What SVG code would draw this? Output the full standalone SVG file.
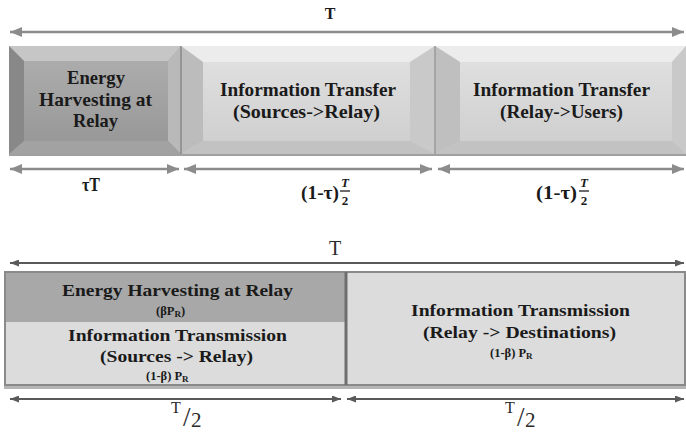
<svg xmlns="http://www.w3.org/2000/svg" width="686" height="436" viewBox="0 0 686 436" font-family="'Liberation Serif', 'DejaVu Serif', serif">
  <defs>
    <marker id="headLight" viewBox="0 0 12 10" refX="12" refY="5" markerWidth="12" markerHeight="10" markerUnits="userSpaceOnUse" orient="auto-start-reverse">
      <path d="M0,0 L12,5 L0,10 Z" fill="#8c8c8c"/>
    </marker>
    <marker id="headDark" viewBox="0 0 9 7" refX="9" refY="3.5" markerWidth="9" markerHeight="7" markerUnits="userSpaceOnUse" orient="auto-start-reverse">
      <path d="M0,0 L9,3.5 L0,7 Z" fill="#5a5a5a"/>
    </marker>
    <linearGradient id="faceDark" x1="0" y1="0" x2="0" y2="1">
      <stop offset="0" stop-color="#b0b0b0"/>
      <stop offset="1" stop-color="#959595"/>
    </linearGradient>
    <linearGradient id="faceLight" x1="0" y1="0" x2="0" y2="1">
      <stop offset="0" stop-color="#e2e2e2"/>
      <stop offset="1" stop-color="#cdcdcd"/>
    </linearGradient>
  </defs>
  <style>
    text { font-family: "Liberation Serif", "DejaVu Serif", serif; }
    .lbl { font-weight: bold; fill: #1a1a1a; }
    .big { font-size: 19px; }
    .mid { font-size: 17px; }
    .sm { font-size: 12.5px; }
    .reg { font-weight: normal; fill: #2a2a2a; }
    .arrL { stroke: #8c8c8c; stroke-width: 2.5; fill: none; marker-start: url(#headLight); marker-end: url(#headLight); }
    .arrD { stroke: #5a5a5a; stroke-width: 2; fill: none; marker-start: url(#headDark); marker-end: url(#headDark); }
  </style>

  <rect width="686" height="436" fill="#ffffff"/>

  <!-- upper time line: bevelled slots -->
  <rect x="9" y="153" width="677" height="3" fill="#a0a0a0"/>

  <g id="slot-energy-harvesting">
    <rect x="9" y="46" width="172" height="108" fill="url(#faceDark)"/>
    <polygon points="9,46 181,46 168,61 24,61" fill="#c6c6c6"/>
    <polygon points="9,46 24,61 24,141 9,154" fill="#888888"/>
    <polygon points="181,46 181,154 168,141 168,61" fill="#b9b9b9"/>
    <polygon points="9,154 24,141 168,141 181,154" fill="#a2a2a2"/>
    <text class="lbl big" x="67" y="84" textLength="58" lengthAdjust="spacingAndGlyphs">Energy</text>
    <text class="lbl big" x="39" y="106" textLength="113" lengthAdjust="spacingAndGlyphs">Harvesting at</text>
    <text class="lbl big" x="73" y="127" textLength="45" lengthAdjust="spacingAndGlyphs">Relay</text>
  </g>

  <g id="slot-sources-relay">
    <rect x="181" y="46" width="254" height="108" fill="url(#faceLight)"/>
    <polygon points="181,46 435,46 410,62 203,62" fill="#ececec"/>
    <polygon points="181,46 203,62 203,141 181,154" fill="#bcbcbc"/>
    <polygon points="435,46 435,154 410,141 410,62" fill="#c9c9c9"/>
    <polygon points="181,154 203,141 410,141 435,154" fill="#c2c2c2"/>
    <line x1="181" y1="46" x2="181" y2="154" stroke="#8a8a8a" stroke-width="1.5"/>
    <text class="lbl big" x="220" y="96" textLength="176" lengthAdjust="spacingAndGlyphs">Information Transfer</text>
    <text class="lbl big" x="233" y="118" textLength="147" lengthAdjust="spacingAndGlyphs">(Sources-&gt;Relay)</text>
  </g>

  <g id="slot-relay-users">
    <rect x="435" y="46" width="251" height="108" fill="url(#faceLight)"/>
    <polygon points="435,46 686,46 672,62 460,62" fill="#ececec"/>
    <polygon points="435,46 460,62 460,141 435,154" fill="#bfbfbf"/>
    <polygon points="686,46 686,154 672,141 672,62" fill="#c9c9c9"/>
    <polygon points="435,154 460,141 672,141 686,154" fill="#c2c2c2"/>
    <line x1="435" y1="46" x2="435" y2="154" stroke="#9a9a9a" stroke-width="1.5"/>
    <text class="lbl big" x="473" y="96" textLength="177" lengthAdjust="spacingAndGlyphs">Information Transfer</text>
    <text class="lbl big" x="500" y="118" textLength="123" lengthAdjust="spacingAndGlyphs">(Relay-&gt;Users)</text>
  </g>

  <!-- lower time line: split slot -->
  <g id="slot-harvest-and-receive">
    <rect x="4" y="386" width="682" height="3" fill="#b5b5b5"/>
    <rect x="5" y="272" width="341" height="50" fill="#a8a8a8"/>
    <rect x="5" y="322" width="341" height="63" fill="#dcdcdc"/>
    <rect x="5" y="272" width="341" height="113" fill="none" stroke="#8a8a8a" stroke-width="2"/>
    <text class="lbl mid" x="62" y="296" textLength="231" lengthAdjust="spacingAndGlyphs">Energy Harvesting at Relay</text>
    <text class="lbl sm" x="156" y="315">(βP<tspan font-size="9" dy="2">R</tspan><tspan dy="-2">)</tspan></text>
    <text class="lbl mid" x="68" y="341" textLength="219" lengthAdjust="spacingAndGlyphs">Information Transmission</text>
    <text class="lbl mid" x="100" y="362" textLength="153" lengthAdjust="spacingAndGlyphs">(Sources -&gt; Relay)</text>
    <text class="lbl sm" x="146" y="380">(1-β) P<tspan font-size="9" dy="2">R</tspan></text>
  </g>

  <g id="slot-relay-destinations">
    <rect x="346" y="272" width="339" height="113" fill="#dcdcdc" stroke="#8a8a8a" stroke-width="2"/>
    <line x1="346" y1="272" x2="346" y2="385" stroke="#6e6e6e" stroke-width="3"/>
    <text class="lbl mid" x="411" y="316" textLength="219" lengthAdjust="spacingAndGlyphs">Information Transmission</text>
    <text class="lbl mid" x="423" y="338" textLength="193" lengthAdjust="spacingAndGlyphs">(Relay -&gt; Destinations)</text>
    <text class="lbl sm" x="490" y="357">(1-β) P<tspan font-size="9" dy="2">R</tspan></text>
  </g>

  <!-- duration arrows -->
  <g id="connectors">
    <line class="arrL" x1="10" y1="32" x2="684" y2="32"/>
    <line class="arrL" x1="10" y1="169" x2="179" y2="169"/>
    <line class="arrL" x1="184" y1="169" x2="432" y2="169"/>
    <line class="arrL" x1="438" y1="169" x2="684" y2="169"/>
    <line class="arrD" x1="10" y1="263" x2="684" y2="263"/>
    <line class="arrD" x1="10" y1="399" x2="341" y2="399"/>
    <line class="arrD" x1="347" y1="399" x2="684" y2="399"/>
  </g>

  <!-- duration labels -->
  <g id="labels-upper">
    <text class="lbl" font-size="16" x="330" y="19" text-anchor="middle">T</text>
    <text class="lbl" font-size="18" x="82" y="191" textLength="18" lengthAdjust="spacingAndGlyphs">τT</text>
    <text class="lbl" font-size="18" x="301" y="199" textLength="38" lengthAdjust="spacingAndGlyphs">(1-τ)</text>
    <text class="lbl" font-size="13" font-style="italic" x="345" y="187" text-anchor="middle">T</text>
    <line x1="340" y1="191" x2="350" y2="191" stroke="#1c1c1c" stroke-width="1.3"/>
    <text class="lbl" font-size="13" x="345" y="205" text-anchor="middle">2</text>
    <text class="lbl" font-size="18" x="536" y="199" textLength="41" lengthAdjust="spacingAndGlyphs">(1-τ)</text>
    <text class="lbl" font-size="13" font-style="italic" x="584" y="187" text-anchor="middle">T</text>
    <line x1="579" y1="191" x2="589" y2="191" stroke="#1c1c1c" stroke-width="1.3"/>
    <text class="lbl" font-size="13" x="584" y="205" text-anchor="middle">2</text>
  </g>

  <g id="labels-lower">
    <text class="reg" font-size="20" x="335" y="255" text-anchor="middle">T</text>
    <text class="reg" font-size="16" x="171" y="413">T</text>
    <text class="reg" font-size="27" x="183" y="426">/</text>
    <text class="reg" font-size="21" x="191" y="427">2</text>
    <text class="reg" font-size="16" x="505" y="413">T</text>
    <text class="reg" font-size="27" x="517" y="426">/</text>
    <text class="reg" font-size="21" x="525" y="427">2</text>
  </g>
</svg>
